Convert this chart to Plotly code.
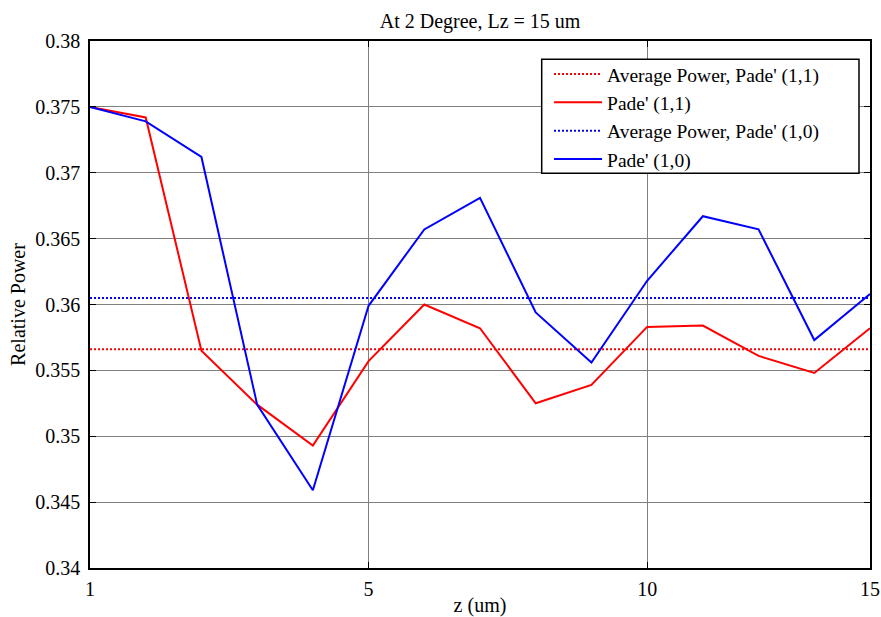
import plotly.graph_objects as go

# Sample positions along z and the labels shown on the z axis
z_index = list(range(1, 16))
z_tick_pos = [1, 6, 11, 15]
z_tick_text = ["1", "5", "10", "15"]

# Relative power for each Pade' approximant
pade_11 = [0.3750, 0.3742, 0.3565, 0.3524, 0.3493, 0.3557, 0.3600, 0.3582,
           0.3525, 0.3539, 0.3583, 0.3584, 0.3561, 0.3548, 0.3582]
pade_10 = [0.3750, 0.3739, 0.3712, 0.3524, 0.3459, 0.3599, 0.3657, 0.3681,
           0.3594, 0.3556, 0.3618, 0.3667, 0.3657, 0.3573, 0.3608]

# Average power levels
avg_11 = 0.3566
avg_10 = 0.3605

y_ticks = [0.34, 0.345, 0.35, 0.355, 0.36, 0.365, 0.37, 0.375, 0.38]
y_tick_text = ["0.34", "0.345", "0.35", "0.355", "0.36", "0.365", "0.37", "0.375", "0.38"]

RED = "#ff0000"
BLUE = "#0000ff"
FONT = "Liberation Serif"

fig = go.Figure()
span = [z_index[0], z_index[-1]]

fig.add_trace(go.Scatter(x=span, y=[avg_11, avg_11], mode="lines",
                         name="Average Power, Pade' (1,1)",
                         line=dict(color=RED, width=2, dash="2px,2px")))
fig.add_trace(go.Scatter(x=z_index, y=pade_11, mode="lines",
                         name="Pade' (1,1)",
                         line=dict(color=RED, width=2)))
fig.add_trace(go.Scatter(x=span, y=[avg_10, avg_10], mode="lines",
                         name="Average Power, Pade' (1,0)",
                         line=dict(color=BLUE, width=2, dash="2px,2px")))
fig.add_trace(go.Scatter(x=z_index, y=pade_10, mode="lines",
                         name="Pade' (1,0)",
                         line=dict(color=BLUE, width=2)))

axis_common = dict(
    showgrid=True, gridcolor="#808080", gridwidth=1,
    showline=True, linecolor="black", linewidth=1.5, mirror="ticks",
    ticks="inside", ticklen=6, tickcolor="black", tickwidth=1,
    zeroline=False, automargin=False,
    tickfont=dict(family=FONT, size=20, color="black"),
)

# White boxed panel behind the legend entries
fig.add_shape(type="rect", xref="paper", yref="paper",
              x0=0.5791, x1=0.9859, y0=0.749, y1=0.9653,
              fillcolor="white", line=dict(color="black", width=1.5),
              layer="above")

fig.update_layout(
    width=881, height=617,
    margin=dict(l=90, r=11, t=41, b=49),
    paper_bgcolor="white", plot_bgcolor="white",
    font=dict(family=FONT, color="black"),
    title=dict(text="At 2 Degree, Lz = 15 um", x=0.5449, xanchor="center",
               y=0.966, yanchor="middle",
               font=dict(family=FONT, size=20, color="black")),
    xaxis=dict(range=span, tickmode="array", tickvals=z_tick_pos,
               ticktext=z_tick_text, ticklabelstandoff=2,
               title=dict(text="z (um)", standoff=1,
                          font=dict(family=FONT, size=20)),
               **axis_common),
    yaxis=dict(range=[0.34, 0.38], tickmode="array", tickvals=y_ticks,
               ticktext=y_tick_text, ticklabelstandoff=4,
               title=dict(text="Relative Power", standoff=4,
                          font=dict(family=FONT, size=20)),
               **axis_common),
    legend=dict(x=0.5885, y=0.9738, xanchor="left", yanchor="top",
                bgcolor="rgba(0,0,0,0)", borderwidth=0,
                font=dict(family=FONT, size=19.5, color="black"),
                itemwidth=48, tracegroupgap=0),
    showlegend=True,
)

fig.write_html("out.html")
